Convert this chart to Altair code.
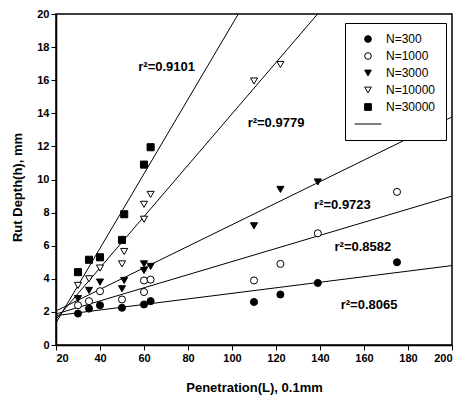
import altair as alt
import pandas as pd

# ---- data ----
series = ["N=300", "N=1000", "N=3000", "N=10000", "N=30000"]

x_300 = [30, 35, 40, 50, 60, 63, 110, 122, 139, 175]
y_300 = [1.9, 2.2, 2.4, 2.25, 2.45, 2.65, 2.6, 3.05, 3.75, 5.0]

x_1000 = [30, 35, 40, 50, 60, 60, 63, 110, 122, 139, 175]
y_1000 = [2.4, 2.65, 3.25, 2.75, 3.9, 3.2, 3.95, 3.9, 4.9, 6.75, 9.25]

x_3000 = [30, 35, 40, 50, 51, 60, 60, 63, 110, 122, 139]
y_3000 = [2.8, 3.3, 3.8, 3.4, 3.9, 4.9, 4.5, 4.75, 7.2, 9.4, 9.85]

x_10000 = [30, 35, 40, 50, 51, 60, 60, 63, 110, 122]
y_10000 = [3.6, 4.0, 4.65, 4.9, 5.65, 7.6, 8.5, 9.1, 15.95, 16.95]

x_30000 = [30, 35, 40, 50, 51, 60, 63]
y_30000 = [4.4, 5.15, 5.3, 6.35, 7.9, 10.9, 11.95]

r2_labels = ["r\u00b2=0.9101", "r\u00b2=0.9779", "r\u00b2=0.9723", "r\u00b2=0.8582", "r\u00b2=0.8065"]
r2_x = [70.3, 120, 150.2, 159.5, 162.3]
r2_y = [16.8, 13.4, 8.48, 5.9, 2.39]

x_ticks = list(range(20, 201, 20))
y_ticks = list(range(0, 21, 2))

legend_domain = series + ["fit"]
shape_range = ["circle", "circle", "triangle-down", "triangle-down", "square", "M-4,0H4"]
fill_range = ["black", "white", "black", "white", "black", "black"]
stroke_range = ["black"] * 6

rows = []
for name, xs_, ys_ in [("N=300", x_300, y_300), ("N=1000", x_1000, y_1000),
                       ("N=3000", x_3000, y_3000), ("N=10000", x_10000, y_10000),
                       ("N=30000", x_30000, y_30000)]:
    for a, b in zip(xs_, ys_):
        rows.append({"N": name, "x": a, "y": b})
df = pd.DataFrame(rows)
lab = pd.DataFrame({"t": r2_labels, "x": r2_x, "y": r2_y})

FONT = "Liberation Sans"

xs = alt.Scale(domain=[20, 200], nice=False)
ys = alt.Scale(domain=[0, 20], nice=False)

x_axis = alt.Axis(title="Penetration(L), 0.1mm", values=x_ticks,
                  titlePadding=18, labelOverlap=False)
y_axis = alt.Axis(title="Rut Depth(h), mm", values=y_ticks,
                  titlePadding=12, titleY=173, labelOverlap=False)

X = alt.X("x:Q", scale=xs, axis=x_axis)
Y = alt.Y("y:Q", scale=ys, axis=y_axis)

leg = alt.Legend(title=None, orient="none", legendX=289, legendY=9,
                 labelExpr="datum.label == 'fit' ? '' : datum.label",
                 symbolStrokeColor="black", symbolStrokeWidth=1)

lines = alt.Chart(df).transform_regression(
    "x", "y", groupby=["N"], extent=[20, 200]
).mark_line(color="black", strokeWidth=1, clip=True).encode(
    x=X, y=Y, detail="N:N",
)

points = alt.Chart(df).mark_point(filled=True, strokeWidth=1,
                                  size=50, opacity=1).encode(
    x=X, y=Y,
    shape=alt.Shape("N:N", scale=alt.Scale(domain=legend_domain, range=shape_range), legend=leg),
    fill=alt.Fill("N:N", scale=alt.Scale(domain=legend_domain, range=fill_range), legend=leg),
    stroke=alt.Stroke("N:N", scale=alt.Scale(domain=legend_domain, range=stroke_range), legend=leg),
)

texts = alt.Chart(lab).mark_text(font=FONT, fontSize=13, fontWeight="bold",
                                 color="black").encode(
    x=X, y=Y, text="t:N",
)

chart = alt.layer(lines, points, texts).properties(
    width=396, height=331,
    autosize=alt.AutoSizeParams(type="none"),
    padding={"left": 48, "top": 6, "right": 5, "bottom": 52},
).configure(font=FONT).configure_view(
    stroke="black", strokeWidth=1.5
).configure_axis(
    grid=False, domainColor="black", domainWidth=1.5, tickColor="black",
    tickSize=5, tickWidth=1, labelColor="black", labelFont=FONT,
    labelFontSize=11, labelFontWeight="bold", labelPadding=2,
    titleColor="black", titleFont=FONT, titleFontSize=13, titleFontWeight="bold",
).configure_legend(
    strokeColor="black", strokeWidth=1, fillColor="white", padding=10,
    symbolOffset=7, symbolSize=45,
    labelFont=FONT, labelFontSize=12, labelColor="black", labelOffset=12,
    rowPadding=5,
)

chart.save("out.html", embed_options={"renderer": "svg", "actions": False})
